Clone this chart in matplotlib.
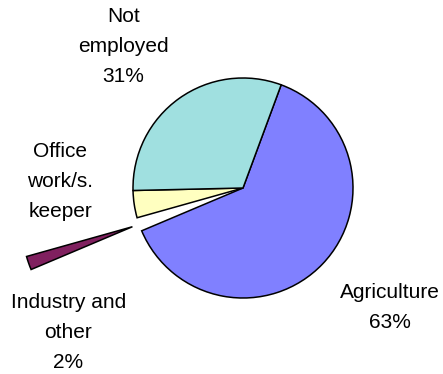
import matplotlib
matplotlib.use("Agg")
import matplotlib.pyplot as plt

# Employment shares, drawn clockwise from the upper right
categories = ["Agriculture", "Industry and other", "Office work/s. keeper", "Not employed"]
shares = [63, 2, 4, 31]
colors = ["#8080FF", "#80205F", "#FFFFC0", "#A0E0E0"]
explode = [0, 1.065, 0, 0]  # as a fraction of the radius

# Wrapped label lines (percent shown where the label carries one)
label_lines = [
    ["Agriculture", f"{shares[0]}%"],
    ["Industry and", "other", f"{shares[1]}%"],
    ["Office", "work/s.", "keeper"],
    ["Not", "employed", f"{shares[3]}%"],
]
# label centre x and first-baseline y, in pixels from the top-left
label_pos = [(390, 297.5), (68.5, 308.5), (60.5, 156.5), (123.5, 21.5)]
line_pitch = 30

W, H = 443, 374
radius = 110
fig = plt.figure(figsize=(W / 100, H / 100), dpi=100)
ax = fig.add_axes([0, 0, 1, 1])

ax.pie(
    shares,
    colors=colors,
    explode=[e * radius for e in explode],
    startangle=69.7,
    counterclock=False,
    radius=radius,
    center=(243, H - 188),
    wedgeprops=dict(edgecolor="black", linewidth=1.1),
)
ax.set_xlim(0, W)
ax.set_ylim(0, H)
ax.set_aspect("equal")
ax.axis("off")

for lines, (cx, by) in zip(label_lines, label_pos):
    for i, line in enumerate(lines):
        ax.text(cx, H - (by + i * line_pitch), line, ha="center", va="baseline",
                fontsize=15, family="Liberation Sans", color="black")

fig.savefig("out.png", dpi=100)
